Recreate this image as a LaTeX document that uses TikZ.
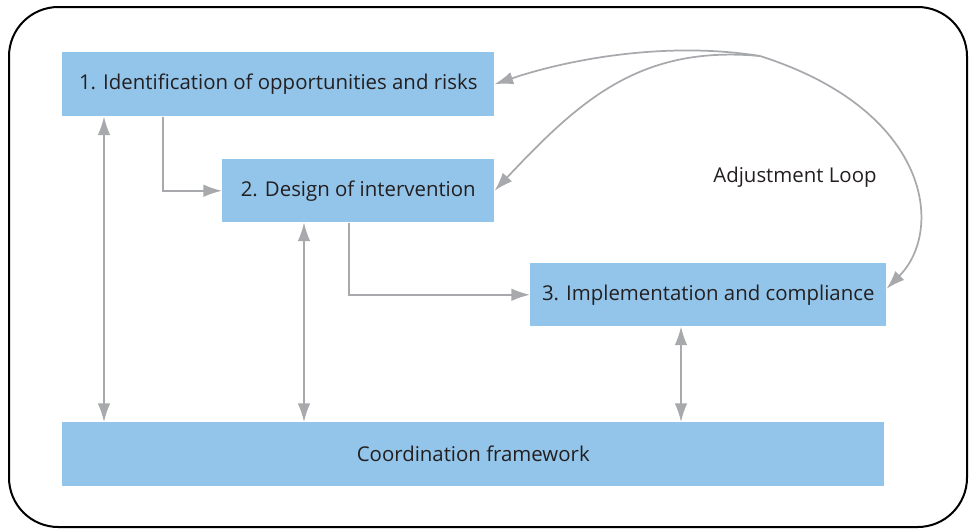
\documentclass[tikz,border=0pt]{standalone}
\usepackage{fontspec}
\setmainfont{Open Sans}
\usetikzlibrary{arrows.meta}
\definecolor{boxblue}{HTML}{93C5EA}
\definecolor{arrowgray}{HTML}{A7A9AC}
\definecolor{textdark}{HTML}{231F20}
\begin{document}
\begin{tikzpicture}[x=0.75pt,y=-0.75pt,
	stage/.style={fill=boxblue,text=textdark,anchor=north west,inner sep=0pt,font=\fontsize{15.3}{18}\selectfont},
	flow/.style={draw=arrowgray,line width=1.3pt,-{Latex[length=14pt,width=9.5pt]}},
	link/.style={draw=arrowgray,line width=1.3pt,{Latex[length=14pt,width=9.5pt]}-{Latex[length=14pt,width=9.5pt]}}]
		\useasboundingbox (0,0) rectangle (971,529);
		\draw[line width=1.5pt,rounded corners=37pt] (9,7) rectangle (967,527);
		\node[stage,minimum width=324pt,minimum height=48pt] (ident) at (62,52) {1. Identification of opportunities and risks};
		\node[stage,minimum width=204pt,minimum height=47.25pt] (design) at (222,159) {2. Design of intervention};
		\node[stage,minimum width=267pt,minimum height=47.25pt] (impl) at (530,263) {3. Implementation and compliance};
		\node[stage,minimum width=616.5pt,minimum height=48pt] (coord) at (62,422) {Coordination framework};
		\node[text=textdark,font=\fontsize{15.3}{18}\selectfont] (adjust) at (795,177) {Adjustment Loop};
		\coordinate (loop) at (760,56);
		\draw[flow] ([xshift=75.75pt]ident.south west) |- (design.west);
		\draw[flow] ([xshift=95.25pt]design.south west) |- (impl.west);
		\draw[link] ([xshift=31.5pt]ident.south west) -- ([xshift=31.5pt]coord.north west);
		\draw[link] ([xshift=61.5pt]design.south west) -- ([xshift=181.5pt]coord.north west);
		\draw[link] ([xshift=113.25pt]impl.south west) -- ([xshift=464.25pt]coord.north west);
		\draw[flow] (loop) .. controls (660,40) and (560,62) .. (ident.east);
		\draw[flow] (loop) .. controls (640,45) and (580,100) .. (design.east);
		\draw[flow] (loop) .. controls (930,110) and (945,230) .. ([yshift=4.5pt]impl.east);
	\end{tikzpicture}
\end{document}
